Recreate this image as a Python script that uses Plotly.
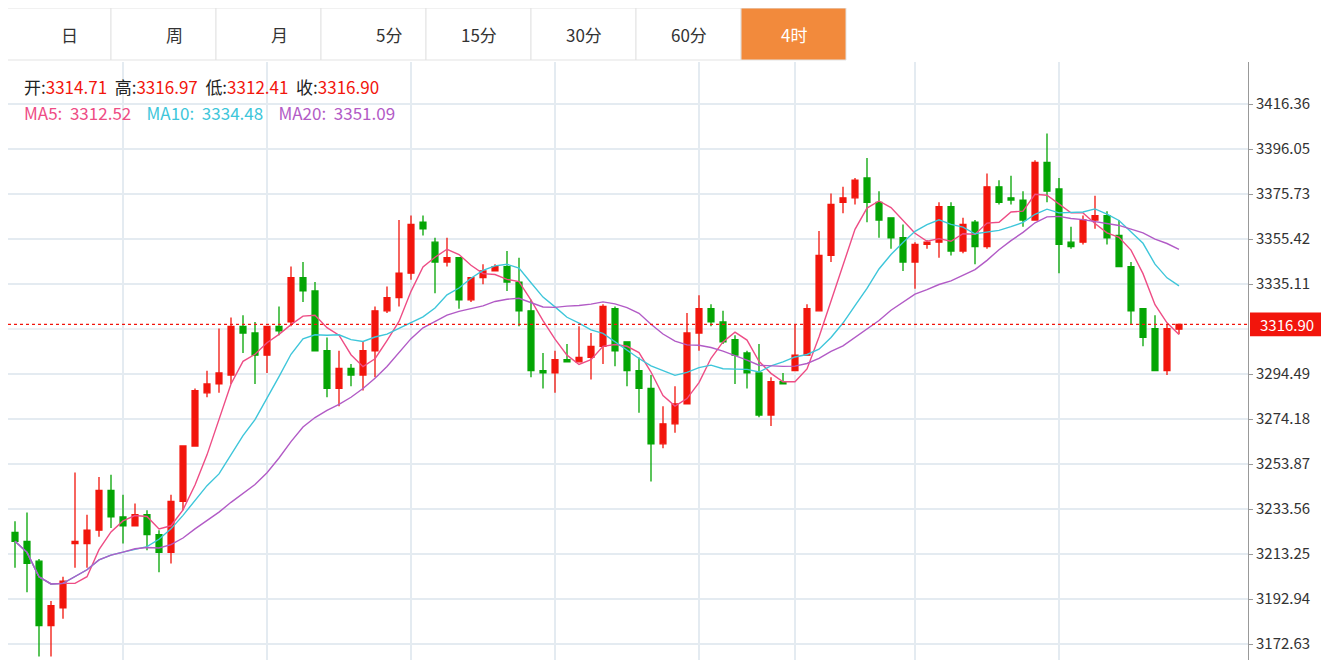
import pandas as pd
import plotly.graph_objects as go

# 4-hour candles (oldest first)
opens = [3223, 3219, 3210, 3181, 3189, 3218, 3218, 3224, 3242, 3230, 3226, 3231, 3222, 3214, 3237, 3262,
         3286, 3290, 3294, 3316, 3313, 3303, 3316, 3318, 3338, 3332, 3305, 3288, 3297, 3294, 3305, 3323,
         3329, 3340, 3363, 3354, 3345, 3347, 3328, 3338, 3341, 3343, 3336, 3323, 3296, 3295, 3301, 3300,
         3302, 3307, 3324, 3309, 3296, 3288, 3263, 3272, 3281, 3313, 3324, 3318, 3310, 3304, 3295, 3276,
         3291, 3296, 3303, 3323, 3348, 3372, 3374, 3383, 3372, 3365, 3356, 3345, 3353, 3354, 3370, 3350,
         3363, 3352, 3379, 3374, 3373, 3364, 3390, 3378, 3354, 3354, 3364, 3366, 3357, 3343, 3324, 3315,
         3296, 3314.71]
closes = [3219, 3209, 3181, 3190, 3201, 3219, 3224, 3242, 3230, 3226, 3231, 3222, 3214, 3237, 3262, 3287,
          3290, 3295, 3316, 3313, 3303, 3316, 3314, 3338, 3332, 3305, 3288, 3297, 3294, 3305, 3323, 3329,
          3340, 3362, 3360, 3345, 3347, 3328, 3338, 3341, 3343, 3336, 3323, 3296, 3295, 3301, 3300, 3302,
          3307, 3325, 3305, 3296, 3288, 3263, 3272, 3281, 3313, 3324, 3318, 3309, 3303, 3295, 3276, 3291,
          3290, 3303, 3324, 3348, 3371, 3374, 3382, 3372, 3364, 3356, 3345, 3353, 3354, 3370, 3350, 3362,
          3352, 3379, 3372, 3373, 3364, 3390, 3377, 3353, 3352, 3364, 3366, 3356, 3343, 3323, 3311, 3296,
          3315, 3316.90]
highs = [3228, 3232, 3211, 3192, 3203, 3250, 3231, 3248, 3249, 3240, 3236, 3233, 3224, 3240, 3262, 3288,
         3296, 3315, 3320, 3321, 3318, 3316, 3325, 3343, 3345, 3336, 3311, 3305, 3299, 3309, 3325, 3334,
         3364, 3366, 3366, 3356, 3356, 3347, 3338, 3344, 3344, 3350, 3347, 3328, 3304, 3305, 3308, 3316,
         3313, 3326, 3325, 3309, 3302, 3294, 3280, 3289, 3322, 3330, 3326, 3323, 3312, 3305, 3308, 3293,
         3295, 3317, 3326, 3359, 3376, 3379, 3383, 3392, 3377, 3365, 3362, 3354, 3355, 3372, 3372, 3365,
         3364, 3385, 3382, 3384, 3377, 3391, 3403, 3383, 3361, 3366, 3375, 3368, 3364, 3345, 3324, 3321,
         3317, 3316.97]
lows = [3207, 3196, 3167, 3167, 3184, 3207, 3207, 3221, 3225, 3218, 3226, 3215, 3205, 3209, 3233, 3262,
        3284, 3286, 3290, 3304, 3290, 3295, 3312, 3316, 3327, 3305, 3284, 3280, 3289, 3287, 3293, 3322,
        3325, 3337, 3357, 3331, 3343, 3324, 3327, 3335, 3341, 3332, 3316, 3293, 3288, 3286, 3300, 3300,
        3292, 3299, 3298, 3289, 3277, 3246, 3261, 3268, 3281, 3305, 3316, 3308, 3290, 3288, 3275, 3271,
        3290, 3296, 3303, 3323, 3345, 3367, 3371, 3363, 3356, 3351, 3341, 3333, 3351, 3347, 3348, 3349,
        3344, 3351, 3371, 3371, 3361, 3364, 3372, 3340, 3351, 3353, 3360, 3353, 3343, 3317, 3307, 3296,
        3294, 3312.41]

tick_vals = [3416.36, 3396.05, 3375.73, 3355.42, 3335.11, 3294.49, 3274.18,
             3253.87, 3233.56, 3213.25, 3192.94, 3172.63]
grid_extra = 3314.80  # hidden behind the price label
day_breaks = [9, 21, 33, 45, 57, 65, 75, 87]
tabs = ["日", "周", "月", "5分", "15分", "30分", "60分", "4时"]
last_price = 3316.90

RED = "#f2150c"
GREEN = "#04a504"
FONT = "Noto Sans CJK SC"

df = pd.DataFrame({"o": opens, "h": highs, "l": lows, "c": closes})
x = list(range(len(df)))
ma5 = df["c"].rolling(5, min_periods=1).mean()
ma10 = df["c"].rolling(10, min_periods=1).mean()
ma20 = df["c"].rolling(20, min_periods=1).mean()

# the page has an 8px body margin; convert reference pixels to paper coords
PW = 1240.0
def px_x(p):
    return (p - 8) / PW
def px_y(p):
    return (660 - p) / 598.0

fig = go.Figure()
fig.add_trace(go.Candlestick(
    x=x, open=df["o"], high=df["h"], low=df["l"], close=df["c"],
    increasing=dict(line=dict(color=RED, width=1.3), fillcolor=RED),
    decreasing=dict(line=dict(color=GREEN, width=1.3), fillcolor=GREEN),
    whiskerwidth=0, hoverinfo="skip"))
for ma, col in [(ma5, "#ee4d85"), (ma10, "#3ec6da"), (ma20, "#b25bc6")]:
    fig.add_trace(go.Scatter(x=x, y=ma, mode="lines", line=dict(color=col, width=1.4),
                             hoverinfo="skip"))

fig.add_hline(y=grid_extra, line=dict(color="#e4ebf1", width=1.5), layer="below")

# current price dotted line + label
fig.add_hline(y=last_price, line=dict(color=RED, width=1.2, dash="dot"))
fig.add_shape(type="rect", xref="paper", yref="y", x0=px_x(1250), x1=px_x(1329),
              y0=last_price - 5.4, y1=last_price + 5.4, fillcolor=RED, line_width=0)
fig.add_annotation(xref="paper", yref="y", x=px_x(1258), y=last_price, text="3316.90",
                   xanchor="left", yanchor="middle", showarrow=False,
                   font=dict(color="white", size=15, family=FONT))

# tab bar
edges = [6, 111, 216, 321, 426, 531, 636, 741, 846]
for i, t in enumerate(tabs):
    active = t == "4时"
    fig.add_shape(type="rect", xref="paper", yref="paper",
                  x0=px_x(edges[i]), x1=px_x(edges[i + 1]), y0=px_y(60), y1=px_y(8),
                  fillcolor="#f28a3c" if active else "white",
                  line=dict(color="#e3e3e3", width=1))
    fig.add_annotation(xref="paper", yref="paper", x=px_x((edges[i] + edges[i + 1]) / 2),
                       y=px_y(35), yanchor="middle", text=t, showarrow=False,
                       font=dict(color="white" if active else "#333", size=17, family=FONT))

# header info
lab = "#222"
head = (f"<span style='color:{lab}'>开:</span>3314.71  <span style='color:{lab}'>高:</span>3316.97  "
        f"<span style='color:{lab}'>低:</span>3312.41  <span style='color:{lab}'>收:</span>3316.90")
fig.add_annotation(xref="paper", yref="paper", x=px_x(22), y=px_y(87), xanchor="left",
                   yanchor="middle", text=head, showarrow=False,
                   font=dict(color=RED, size=17, family=FONT))
mas = ("<span style='color:#ee4d85'>MA5:  3312.52</span>    <span style='color:#3ec6da'>MA10:  3334.48</span>"
       "    <span style='color:#b25bc6'>MA20:  3351.09</span>")
fig.add_annotation(xref="paper", yref="paper", x=px_x(22), y=px_y(112), xanchor="left",
                   yanchor="middle", text=mas, showarrow=False, font=dict(size=17, family=FONT))

ppx = 20.31 / 45
fig.update_layout(
    width=1321, height=652, showlegend=False,
    paper_bgcolor="white", plot_bgcolor="white",
    margin=dict(l=0, r=81, t=54, b=0, autoexpand=False),
    xaxis=dict(range=[(8 - 15) / 12, 102.75], rangeslider=dict(visible=False), showticklabels=False,
               tickvals=day_breaks, showgrid=True, gridcolor="#e4ebf1", gridwidth=1.5,
               zeroline=False, ticks=""),
    yaxis=dict(side="right", range=[3416.36 - 556 * ppx, 3416.36 + 42 * ppx],
               tickvals=tick_vals, ticktext=[f"{v:.2f}" for v in tick_vals],
               showgrid=True, gridcolor="#e4ebf1", gridwidth=1.5, zeroline=False,
               showline=True, linecolor="#999", ticks="outside", ticklen=4, tickcolor="#999",
               tickfont=dict(size=15, color="#333", family=FONT)),
)

fig.write_html("out.html")
